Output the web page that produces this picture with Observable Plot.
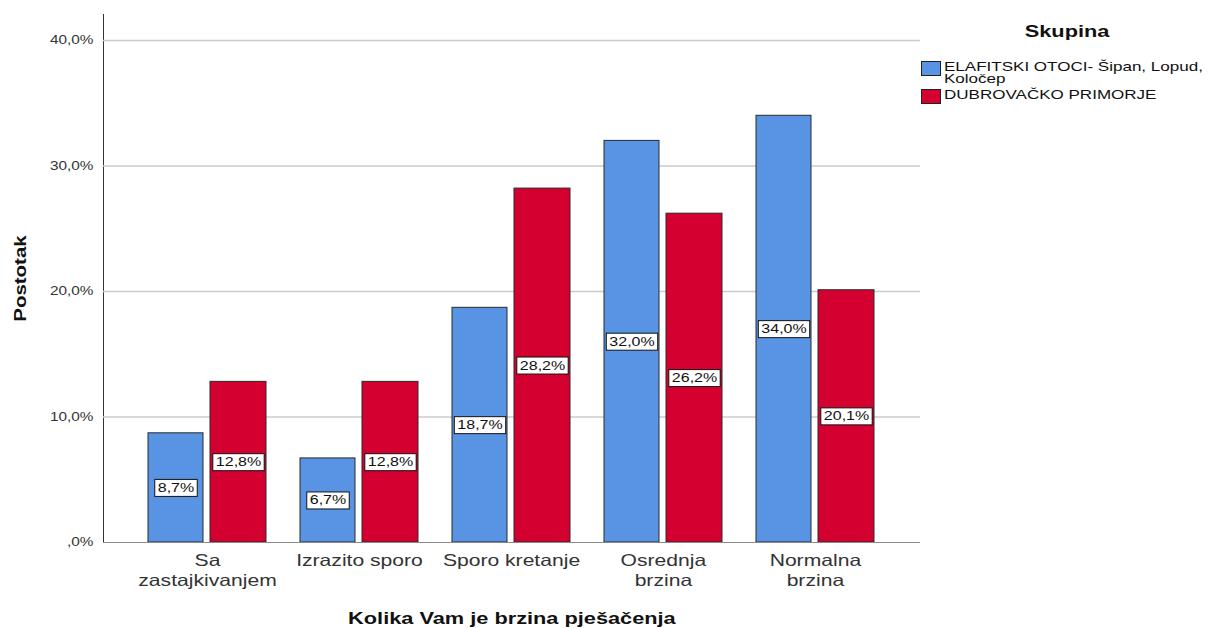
<!DOCTYPE html>
<html>
<head>
<meta charset="utf-8">
<script src="https://cdn.jsdelivr.net/npm/d3@7"></script>
<script src="https://cdn.jsdelivr.net/npm/@observablehq/plot@0.6"></script>
<style>
  html, body { margin: 0; padding: 0; background: #fff; }
  #wrap { position: relative; width: 1212px; height: 628px; font-family: "Liberation Sans", Arial, sans-serif; }
  #legend { position: absolute; left: 921px; top: 22px; width: 291px; color: #111; }
  #legend .title { font-weight: bold; font-size: 17px; text-align: center; width: 294px; margin-left: -1px; }
  #legend .title span { display: inline-block; transform: scaleX(1.28); }
  #legend .item { display: flex; align-items: flex-start; font-size: 13.3px; line-height: 11.5px; }
  #legend .sw { flex: none; width: 18px; height: 13px; border: 1px solid #222; margin-right: 3px; margin-top: 0px; }
  #legend .lab { width: 218px; transform: scaleX(1.28); transform-origin: left top; white-space: normal; }
</style>
</head>
<body>
<div id="wrap">
  <div id="chart"></div>
  <div id="legend"></div>
</div>
<script>
// Walking speed categories
const categories = ["Sa\nzastajkivanjem", "Izrazito sporo", "Sporo kretanje", "Osrednja\nbrzina", "Normalna\nbrzina"];
// Group names
const groups = ["ELAFITSKI OTOCI- Šipan, Lopud, Koločep", "DUBROVAČKO PRIMORJE"];
// Percentages per group
const elafitiValues = [8.7, 6.7, 18.7, 32.0, 34.0];
const primorjeValues = [12.8, 12.8, 28.2, 26.2, 20.1];
// Y axis ticks
const yTicks = [0, 10, 20, 30, 40];
const colors = ["#5894e3", "#d4002f"];

const rows = [];
categories.forEach((c, i) => {
  rows.push({category: c, group: groups[0], value: elafitiValues[i]});
  rows.push({category: c, group: groups[1], value: primorjeValues[i]});
});
const rowsA = rows.filter(d => d.group === groups[0]);
const rowsB = rows.filter(d => d.group === groups[1]);
const fmt = v => (v === 0 ? ",0" : v.toFixed(1).replace(".", ",")) + "%";

const chart = Plot.plot({
  width: 1212,
  height: 628,
  marginLeft: 103,
  marginRight: 292,
  marginTop: 14,
  marginBottom: 86,
  style: {fontFamily: "Liberation Sans, Arial, sans-serif", fontSize: "12px", color: "#333", background: "#fff"},
  x: {domain: categories, axis: null, paddingInner: 0.222, paddingOuter: 0.281},
  y: {domain: [0, 42.07], ticks: yTicks, tickFormat: fmt, tickSize: 0, tickPadding: 10, label: null, line: true},
  marks: [
    Plot.ruleY(yTicks.filter(t => t > 0), {stroke: "#cbcbcb", strokeWidth: 1.3}),
    Plot.barY(rowsA, {x: "category", y: "value", fill: colors[0], stroke: "#2a2a2a", strokeWidth: 1, insetRight: 63}),
    Plot.barY(rowsB, {x: "category", y: "value", fill: colors[1], stroke: "#2a2a2a", strokeWidth: 1, insetLeft: 62}),
    Plot.ruleY([0], {stroke: "#8a8a8a", strokeWidth: 1.2}),
    Plot.text(rowsA, {x: "category", y: d => d.value / 2, text: d => fmt(d.value), dx: -31.5, fontSize: 12.5, fill: "#111", ariaDescription: "value-label"}),
    Plot.text(rowsB, {x: "category", y: d => d.value / 2, text: d => fmt(d.value), dx: 31, fontSize: 12.5, fill: "#111", ariaDescription: "value-label"}),
    Plot.text(categories, {x: d => d, frameAnchor: "bottom", lineAnchor: "top", dy: 9, fontSize: 16.5, lineHeight: 1.22, fill: "#333"}),
    Plot.text(["Postotak"], {frameAnchor: "left", textAnchor: "middle", lineAnchor: "middle", dx: -83, rotate: -90, fontSize: 16, fontWeight: "bold", fill: "#111"}),
    Plot.text(["Kolika Vam je brzina pješačenja"], {frameAnchor: "bottom", lineAnchor: "middle", dy: 76, fontSize: 17, fontWeight: "bold", fill: "#111"})
  ]
});
document.getElementById("chart").appendChild(chart);

// Widen all text horizontally around its anchor point
const SX = 1.28;
const valueTexts = new Set(chart.querySelectorAll('g[aria-description="value-label"] text'));
chart.querySelectorAll("text").forEach(t => {
  const b = t.getBBox();
  const anchor = getComputedStyle(t).textAnchor;
  const ax = anchor === "middle" ? b.x + b.width / 2 : anchor === "end" ? b.x + b.width : b.x;
  const old = t.getAttribute("transform") || "";
  t.setAttribute("transform", `${old} translate(${ax},0) scale(${SX},1) translate(${-ax},0)`);
  if (valueTexts.has(t)) {
    // white box with a dark outline behind each value label
    const r = document.createElementNS("http://www.w3.org/2000/svg", "rect");
    r.setAttribute("x", ax + (b.x - ax) * SX - 3);
    r.setAttribute("y", b.y - 1.5);
    r.setAttribute("width", b.width * SX + 6);
    r.setAttribute("height", b.height + 3);
    r.setAttribute("fill", "#fff");
    r.setAttribute("stroke", "#111");
    r.setAttribute("stroke-width", 1);
    if (old) r.setAttribute("transform", old);
    t.parentNode.insertBefore(r, t);
  }
});

// Legend
const legend = document.getElementById("legend");
const title = document.createElement("div");
title.className = "title";
title.innerHTML = "<span>Skupina</span>";
legend.appendChild(title);
groups.forEach((g, i) => {
  const item = document.createElement("div");
  item.className = "item";
  item.style.marginTop = i === 0 ? "19px" : "5px";
  const sw = document.createElement("div");
  sw.className = "sw";
  sw.style.background = colors[i];
  const lab = document.createElement("div");
  lab.className = "lab";
  lab.textContent = g;
  item.appendChild(sw);
  item.appendChild(lab);
  legend.appendChild(item);
});
</script>
</body>
</html>
